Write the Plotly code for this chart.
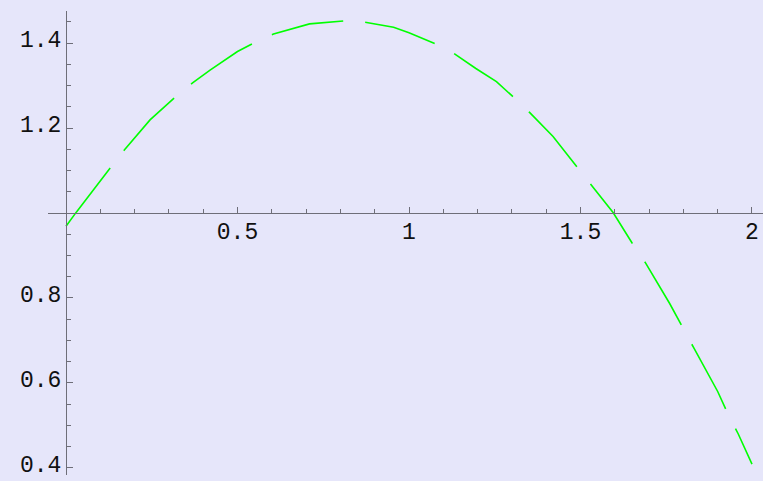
import plotly.graph_objects as go

# Curve samples (x, y)
xs = [0, 0.03, 0.13, 0.17, 0.245, 0.32, 0.37, 0.42, 0.50, 0.545, 0.605, 0.71,
      0.81, 0.87, 0.955, 1.0, 1.075, 1.13, 1.195, 1.255, 1.30, 1.35, 1.42,
      1.49, 1.53, 1.595, 1.65, 1.69, 1.76, 1.80, 1.83, 1.90, 1.93, 1.96, 2.0]
ys = [0.969, 1.002, 1.107, 1.148, 1.219, 1.274, 1.307, 1.336, 1.380, 1.399,
      1.421, 1.445, 1.452, 1.449, 1.437, 1.424, 1.399, 1.376, 1.340, 1.309,
      1.276, 1.238, 1.180, 1.109, 1.068, 1.001, 0.930, 0.882, 0.787, 0.729,
      0.683, 0.580, 0.527, 0.480, 0.409]

# Axis ticks
x_ticks = [0.5, 1.0, 1.5, 2.0]
x_tick_text = ["0.5", "1", "1.5", "2"]
x_minor = [0.1, 0.2, 0.3, 0.4, 0.6, 0.7, 0.8, 0.9, 1.1, 1.2, 1.3, 1.4,
           1.6, 1.7, 1.8, 1.9]
y_ticks = [0.4, 0.6, 0.8, 1.2, 1.4]
y_tick_text = ["0.4", "0.6", "0.8", "1.2", "1.4"]
y_minor = [0.45, 0.5, 0.55, 0.65, 0.7, 0.75, 0.85, 0.9, 0.95, 1.05, 1.1,
           1.15, 1.25, 1.3, 1.35, 1.45]

W, H = 763, 481
BG = "#E6E6FA"
AXIS = "#6E6E78"
FONT = dict(family="Liberation Mono, Courier New, monospace", size=23,
            color="#111111")

fig = go.Figure()
fig.add_trace(go.Scatter(
    x=xs, y=ys, mode="lines",
    line=dict(color="#00FF00", width=1.6, dash="73px,22px"),
    hoverinfo="skip", showlegend=False,
))

fig.update_layout(
    width=W, height=H,
    margin=dict(l=0, r=0, t=0, b=0, pad=0, autoexpand=False),
    paper_bgcolor=BG, plot_bgcolor=BG,
    font=FONT,
    xaxis=dict(
        domain=[48 / W, 1.0], range=[-0.0525, 2.0321],
        anchor="free", position=(H - 213) / H, automargin=False,
        showline=True, linecolor=AXIS, linewidth=1.2,
        showgrid=False, zeroline=False,
        tickmode="array", tickvals=x_ticks, ticktext=x_tick_text,
        ticks="inside", ticklen=6, tickwidth=1, tickcolor=AXIS,
        minor=dict(tickmode="array", tickvals=x_minor, ticks="inside",
                   ticklen=4, tickwidth=1, tickcolor=AXIS, showgrid=False),
        tickfont=FONT, ticklabelstandoff=-3, ticklabeloverflow="allow",
    ),
    yaxis=dict(
        domain=[(H - 475) / H, (H - 11) / H], range=[0.3835, 1.4753],
        anchor="free", position=66 / W, automargin=False,
        showline=True, linecolor=AXIS, linewidth=1.2,
        showgrid=False, zeroline=False,
        tickmode="array", tickvals=y_ticks, ticktext=y_tick_text,
        ticks="inside", ticklen=6, tickwidth=1, tickcolor=AXIS,
        minor=dict(tickmode="array", tickvals=y_minor, ticks="inside",
                   ticklen=4, tickwidth=1, tickcolor=AXIS, showgrid=False),
        tickfont=FONT, ticklabeloverflow="allow", ticklabelshift=-4,
    ),
)

fig.write_html("out.html")
